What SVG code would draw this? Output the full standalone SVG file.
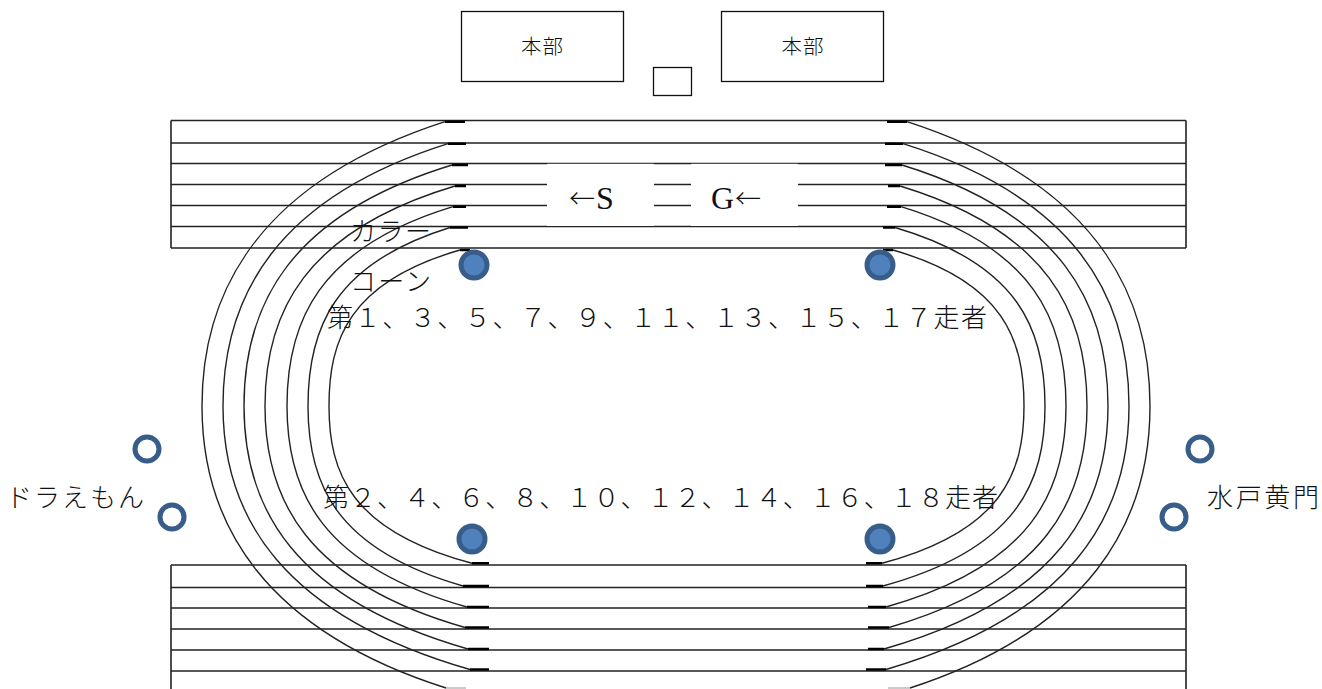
<svg xmlns="http://www.w3.org/2000/svg" width="1322" height="689" viewBox="0 0 1322 689">
<style>
text{font-family:"Liberation Serif","Noto Sans CJK JP",serif;fill:#111;font-weight:300}
.big{font-size:26px}
.small{font-size:20.5px}
.latin{font-size:32px}
.arrow{font-family:"Noto Sans CJK JP","Liberation Serif",serif;font-size:26px}
.box{fill:#fff;stroke:#111;stroke-width:1.3}
.rail{fill:none;stroke:#222;stroke-width:1.6}
.arc{fill:none;stroke:#222;stroke-width:1.4}
.tick{fill:none;stroke:#000;stroke-width:2.4}
.faint{fill:none;stroke:#bbb;stroke-width:1.5}
.cone{fill:#4f81bd;stroke:#385d8a;stroke-width:5}
.ring{fill:#fff;stroke:#385d8a;stroke-width:5}
</style>
<rect width="1322" height="689" fill="#fff"/>
<g id="connectors">
<path class="rail" d="M171 120.5H1186M171 143H1186M171 163.5H1186M171 184.5H1186M171 205.5H1186M171 226.5H1186M171 248H1186M171 120.5V248M1186 120.5V248"/>
<path class="rail" d="M171 565H1186M171 587.5H1186M171 608H1186M171 629H1186M171 650H1186M171 671H1186M171 565V689M1186 565V689"/>
<path class="arc" d="M460 250C348.600 282 329 340.200 329 406C329 472.400 350.400 531.100 472 563.300"/>
<path class="arc" d="M450 227.500C331.900 264.100 308 330.700 308 406C308 482 334 549.100 463 586"/>
<path class="arc" d="M453 206.700C318 247.600 287 321.900 287 406C287 490.800 320.700 565.800 467 607"/>
<path class="arc" d="M455 186C304 231.100 265 313.200 265 406C265 499.500 306 582.100 465 627.500"/>
<path class="arc" d="M452 165C290.400 214.400 244 304.300 244 406C244 508.500 294 599.200 468 649"/>
<path class="arc" d="M448 143.700C277.400 197.500 223 295.300 223 406C223 517.200 282.800 615.500 470 669.500"/>
<path class="arc" d="M445 121.700C265.200 180 202 286 202 406C202 525 265.400 630.200 446 688"/>
<path class="arc" d="M893 250C1004.400 282 1024 340.200 1024 406C1024 472.400 1002.700 531.100 882 563.300"/>
<path class="arc" d="M895 227.500C1019.800 264.100 1045 330.700 1045 406C1045 482 1017.800 549.100 883 586"/>
<path class="arc" d="M901 206.700C1035.100 247.600 1066 321.900 1066 406C1066 490.800 1032.300 565.800 886 607"/>
<path class="arc" d="M900 186C1048.700 231.100 1087 313.200 1087 406C1087 499.500 1046.400 582.100 889 627.500"/>
<path class="arc" d="M902 165C1062.100 214.400 1108 304.300 1108 406C1108 508.500 1058 599.200 884 649"/>
<path class="arc" d="M903 143.700C1074.300 197.500 1129 295.300 1129 406C1129 517.200 1070.200 615.500 886 669.500"/>
<path class="arc" d="M907 121.700C1086.800 180 1150 286 1150 406C1150 525 1087.600 630.200 910 688"/>
<path class="tick" d="M445 121.700H465M448 143.700H466M452 165H468M455 186H466M453 206.700H466M450 227.500H468M460 250H470M887 121.700H907M885 143.700H903M885 165H902M888 186H900M887 206.700H901M883 227.500H895M883 250H893M472 563.300H489M463 586H489M467 607H489M465 627.500H489M468 649H489M470 669.500H489M866 563.300H882M866 586H883M868 607H886M868 627.500H889M868 649H884M866 669.500H886"/>
<path class="faint" d="M446 688H466M888 688H910"/>
</g>
<g id="start-label">
<rect x="547" y="163.800" width="107" height="62.200" fill="#fff"/>
<text class="arrow" x="569" y="208">←</text>
<text class="latin" x="596" y="209">S</text>
</g>
<g id="goal-label">
<rect x="691" y="163.800" width="107" height="62.200" fill="#fff"/>
<text class="latin" x="711" y="209">G</text>
<text class="arrow" x="735" y="208">←</text>
</g>
<g id="honbu-left">
<rect class="box" x="461.500" y="11.500" width="162" height="70"/>
<text class="small" x="521" y="54" textLength="42">本部</text>
</g>
<g id="honbu-right">
<rect class="box" x="721.500" y="11.500" width="162" height="70"/>
<text class="small" x="781.500" y="54" textLength="42">本部</text>
</g>
<g id="small-box"><rect class="box" x="653.500" y="67.500" width="38" height="28"/></g>
<g id="cone-1"><circle class="cone" cx="474" cy="265" r="13"/></g>
<g id="cone-2"><circle class="cone" cx="880" cy="265" r="13"/></g>
<g id="cone-3"><circle class="cone" cx="472" cy="539" r="13"/></g>
<g id="cone-4"><circle class="cone" cx="880" cy="539" r="13"/></g>
<g id="ring-1"><circle class="ring" cx="147" cy="449" r="12"/></g>
<g id="ring-2"><circle class="ring" cx="172" cy="517" r="12"/></g>
<g id="ring-3"><circle class="ring" cx="1200" cy="449" r="12"/></g>
<g id="ring-4"><circle class="ring" cx="1174" cy="517" r="12"/></g>
<g id="label-cone">
<text class="big" x="350" y="241" textLength="81">カラー</text>
<text class="big" x="350" y="291" textLength="81">コーン</text>
</g>
<g id="label-odd"><text class="big" x="327" y="327" textLength="660">第１、３、５、７、９、１１、１３、１５、１７走者</text></g>
<g id="label-even"><text class="big" x="323" y="507" textLength="675">第２、４、６、８、１０、１２、１４、１６、１８走者</text></g>
<g id="label-doraemon"><text class="big" x="6" y="507" textLength="138">ドラえもん</text></g>
<g id="label-komon"><text class="big" x="1207" y="507" textLength="112">水戸黄門</text></g>
</svg>
